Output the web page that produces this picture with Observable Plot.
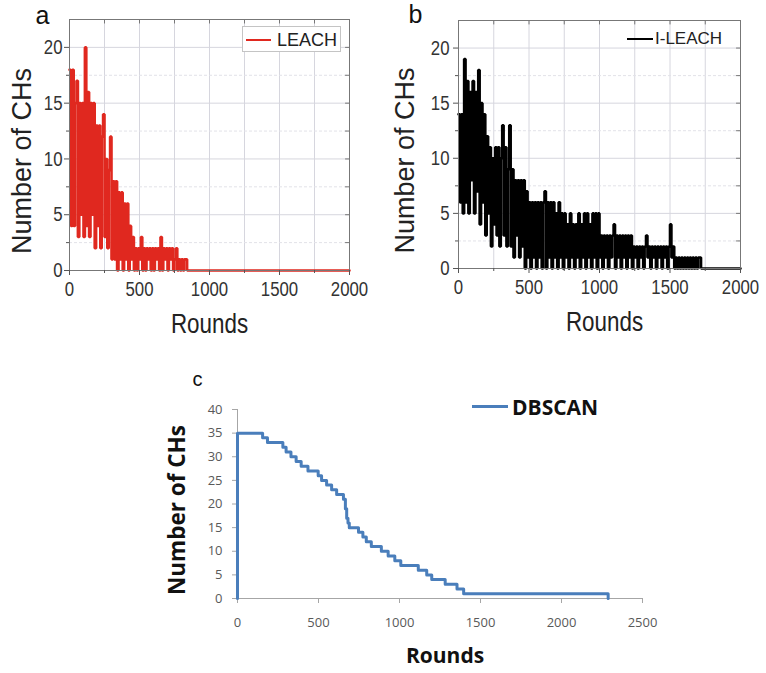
<!DOCTYPE html>
<html><head><meta charset="utf-8">
<script src="https://cdn.jsdelivr.net/npm/d3@7"></script>
<script src="https://cdn.jsdelivr.net/npm/@observablehq/plot@0.6"></script>
<style>
body{margin:0;background:#fff;}
#wrap{position:relative;width:766px;height:673px;overflow:hidden;background:#fff;font-family:"Liberation Sans",Arial,sans-serif;}
.panel{position:absolute;}
.abs{position:absolute;white-space:nowrap;}
</style></head><body><div id="wrap"></div>
<script>
// ---- data ----
const roundStep = 10; // sampling interval of the LEACH / I-LEACH traces (rounds)
const leachCHs = [18,4,18,4,15,17,3,15,5,15, 3,20,4,16,3,15,5,15,2,13, 4,13,2,12,14,3,10,2,9,12,
  1,8,1,8,0,7,1,7,0,6, 1,6,0,4,1,3,0,2,0,2, 1,3,0,2,0,2,1,2,0,2, 0,2,1,2,0,3,0,2,1,2,
  0,2,1,2,0,1,2,0,1,0, 1,0,1,1,0];
const ileachCHs = [14,6,14,5,19,6,17,5,16,8, 17,5,16,7,18,4,15,6,14,3, 12,5,11,2,10,4,11,3,11,2,
  10,13,3,11,2,9,13,2,9,1, 8,3,8,1,8,2,8,0,7,1, 6,0,6,1,6,0,6,1,6,0, 6,7,0,6,1,6,0,6,1,5,
  0,6,1,5,0,5,1,4,0,5, 1,4,0,4,1,5,0,4,1,5, 0,5,1,4,0,5,1,5,0,5, 1,3,0,3,1,3,0,3,1,3,
  4,0,3,1,3,0,3,1,3,0, 3,1,3,0,2,1,2,0,2,1, 2,0,2,3,1,2,0,2,1,2, 0,2,1,2,0,2,1,2,0,2,
  4,1,2,0,1,0,1,0,1,0, 1,0,1,0,1,0,1,0,1,0, 1,1,0];
const dbscanRounds = [0,0,155,185,280,300,330,362,393,435, 498,519,550,581,612,654,666,674,682,690,
  747,774,795,826,888,930,971,1008,1116,1168, 1199,1282,1355,1396,2288,2288];
const dbscanCHs = [0,35,34,33,32,31,30,29,28,27, 26,25,24,23,22,21,19,17,16,15,
  14,13,12,11,10,9,8,7,6,5, 4,3,2,1,1,0];
const lastRoundAB = 2000;
const xTicksAB = [0,500,1000,1500,2000];
const xMinorAB = [250,750,1250,1750];
const yTicksAB = [0,5,10,15,20];
const yMinorAB = [2.5,7.5,12.5,17.5];
const xTicksC = [0,500,1000,1500,2000,2500];
const yTicksC = [0,5,10,15,20,25,30,35,40];

const wrap = document.getElementById("wrap");
const plain = d => String(d);

function panelAB(values, color, m) {
  const data = values.map((v,i)=>({r:i*roundStep, v})).concat([{r:lastRoundAB, v:0}]);
  return Plot.plot({
    width: 383, height: 345,
    marginLeft: m.left, marginRight: m.right, marginTop: m.top, marginBottom: m.bottom,
    x: {domain:[0,2000]}, y: {domain:[0,22.5]},
    style: {fontFamily: "'Liberation Sans',Arial,sans-serif", fontSize: "21px", color: "#333", background: "transparent", overflow: "visible"},
    marks: [
      Plot.gridX(xTicksAB.concat(xMinorAB), {stroke:"#d6d6de", strokeOpacity:1}),
      Plot.gridY(yTicksAB, {stroke:"#d6d6de", strokeOpacity:1}),
      Plot.gridY(yMinorAB, {stroke:"#e2e2e8", strokeOpacity:1, strokeDasharray:"3,2"}),
      Plot.line(data, {x:"r", y:"v", curve:"step-after", stroke: color, strokeWidth: 2.6, strokeLinejoin:"miter"}),
      Plot.frame({stroke:"#777"}),
      Plot.axisX(xTicksAB, {tickSize:5, tickPadding:6, label:null, tickFormat:plain, stroke:"#555", fill:"#333"}),
      Plot.axisX(xMinorAB, {tickSize:3, tickFormat:()=>"", label:null, stroke:"#555"}),
      Plot.axisY(yTicksAB, {tickSize:5, tickPadding:m.ypad, label:null, tickFormat:plain, stroke:"#555", fill:"#333"}),
      Plot.axisY(yMinorAB, {tickSize:3, tickFormat:()=>"", label:null, stroke:"#555"}),
      Plot.ruleX(xTicksAB.concat(xMinorAB), {y1:22.5, y2:22.1, stroke:"#777"}),
      Plot.ruleY(yTicksAB.concat(yMinorAB), {x1:2000, x2:1972, stroke:"#777"}),
      Plot.text(["Rounds"], {text:d=>d, frameAnchor:"bottom", dy:62, dx:m.rdx, textAnchor:"middle", lineAnchor:"bottom", fontSize:28, fill:"#222"}),
      Plot.text(["Number of CHs"], {text:d=>d, frameAnchor:"left", rotate:-90, dx:m.ldx, dy:16, textAnchor:"middle", lineAnchor:"middle", fontSize:27, fill:"#222"}),
      Plot.text([m.letter], {text:d=>d, frameAnchor:"top-left", dx:m.adx, dy:m.ady, textAnchor:"start", lineAnchor:"bottom", fontSize:25, fill:"#111"})
    ]
  });
}

// horizontally condense texts (the reference's lettering is narrow)
function condense(svg, keep, k) {
  svg.querySelectorAll("text").forEach(t => {
    if (!keep(t)) return;
    let tr = t.getAttribute("transform");
    if (!tr) {
      const x = t.getAttribute("x") || 0, y = t.getAttribute("y") || 0;
      t.removeAttribute("x"); t.removeAttribute("y");
      tr = `translate(${x},${y})`;
    }
    t.setAttribute("transform", tr + ` scale(${k},1)`);
  });
}
const skip = new Set(["Number of CHs","a","b"]);

const a = panelAB(leachCHs, "#e0281f", {left:69, right:34, top:19, bottom:75, ypad:2, rdx:0, ldx:-47, letter:"a", adx:-34, ady:4});
a.classList.add("panel"); a.style.left="0px"; a.style.top="0px";
wrap.appendChild(a);

const b = panelAB(ileachCHs, "#000", {left:75, right:26, top:20, bottom:77, ypad:4, rdx:5, ldx:-53, letter:"b", adx:-50, ady:2});
b.classList.add("panel"); b.style.left="383px"; b.style.top="0px";
wrap.appendChild(b);

[a, b].forEach(s => condense(s, t => !skip.has(t.textContent), 0.8));

const dbData = dbscanRounds.map((r,i)=>({r, v: dbscanCHs[i]}));
const c = Plot.plot({
  width: 766, height: 328,
  marginLeft: 237, marginRight: 124, marginTop: 64, marginBottom: 75,
  x: {domain:[0,2500]}, y: {domain:[0,40]},
  style: {fontFamily: "'Open Sans',sans-serif", fontSize: "13px", color: "#595959", background: "transparent", overflow: "visible"},
  marks: [
    Plot.ruleY([0], {stroke:"#a6a6a6"}),
    Plot.ruleX([0], {stroke:"#a6a6a6"}),
    Plot.axisX(xTicksC, {tickSize:5, tickPadding:14, label:null, tickFormat:plain, stroke:"#a6a6a6", fill:"#595959"}),
    Plot.axisY(yTicksC, {tickSize:5, tickPadding:10, label:null, tickFormat:plain, stroke:"#a6a6a6", fill:"#595959"}),
    Plot.line(dbData, {x:"r", y:"v", curve:"step-after", stroke:"#4a7ebb", strokeWidth:3}),
    Plot.text(["Rounds"], {text:d=>d, frameAnchor:"bottom", dy:64, dx:5, textAnchor:"middle", lineAnchor:"bottom", fontSize:21, fontWeight:"bold", fill:"#111"}),
    Plot.text(["Number of CHs"], {text:d=>d, frameAnchor:"left", rotate:-90, dx:-60, dy:6, textAnchor:"middle", lineAnchor:"middle", fontSize:22.5, fontWeight:"bold", fill:"#111"}),
    Plot.text(["c"], {text:d=>d, frameAnchor:"top-left", dx:-45, dy:-24, textAnchor:"start", lineAnchor:"bottom", fontSize:20, fontFamily:"'Liberation Sans',Arial,sans-serif", fill:"#111"})
  ]
});
c.classList.add("panel"); c.style.left="0px"; c.style.top="345px";
wrap.appendChild(c);

// ---- legends ----
function el(html, css){ const d=document.createElement("div"); d.className="abs"; d.textContent=html; Object.assign(d.style, css); wrap.appendChild(d); return d; }
el("", {left:"242px", top:"26px", width:"97px", height:"24px", border:"1px solid #c4c4c4", background:"#fff"});
el("", {left:"246px", top:"39px", width:"25px", height:"2px", background:"#e0281f"});
el("LEACH", {left:"277px", top:"30px", fontSize:"18px", lineHeight:"20px", color:"#222"});
el("", {left:"627px", top:"38px", width:"26px", height:"2px", background:"#000"});
el("I-LEACH", {left:"655px", top:"29px", fontSize:"17px", lineHeight:"20px", color:"#222"});
el("", {left:"472px", top:"405px", width:"36px", height:"3px", background:"#4a7ebb"});
el("DBSCAN", {left:"512px", top:"395px", fontSize:"21px", lineHeight:"24px", fontWeight:"bold", fontFamily:"'Open Sans',sans-serif", color:"#111"});
</script></body></html>
